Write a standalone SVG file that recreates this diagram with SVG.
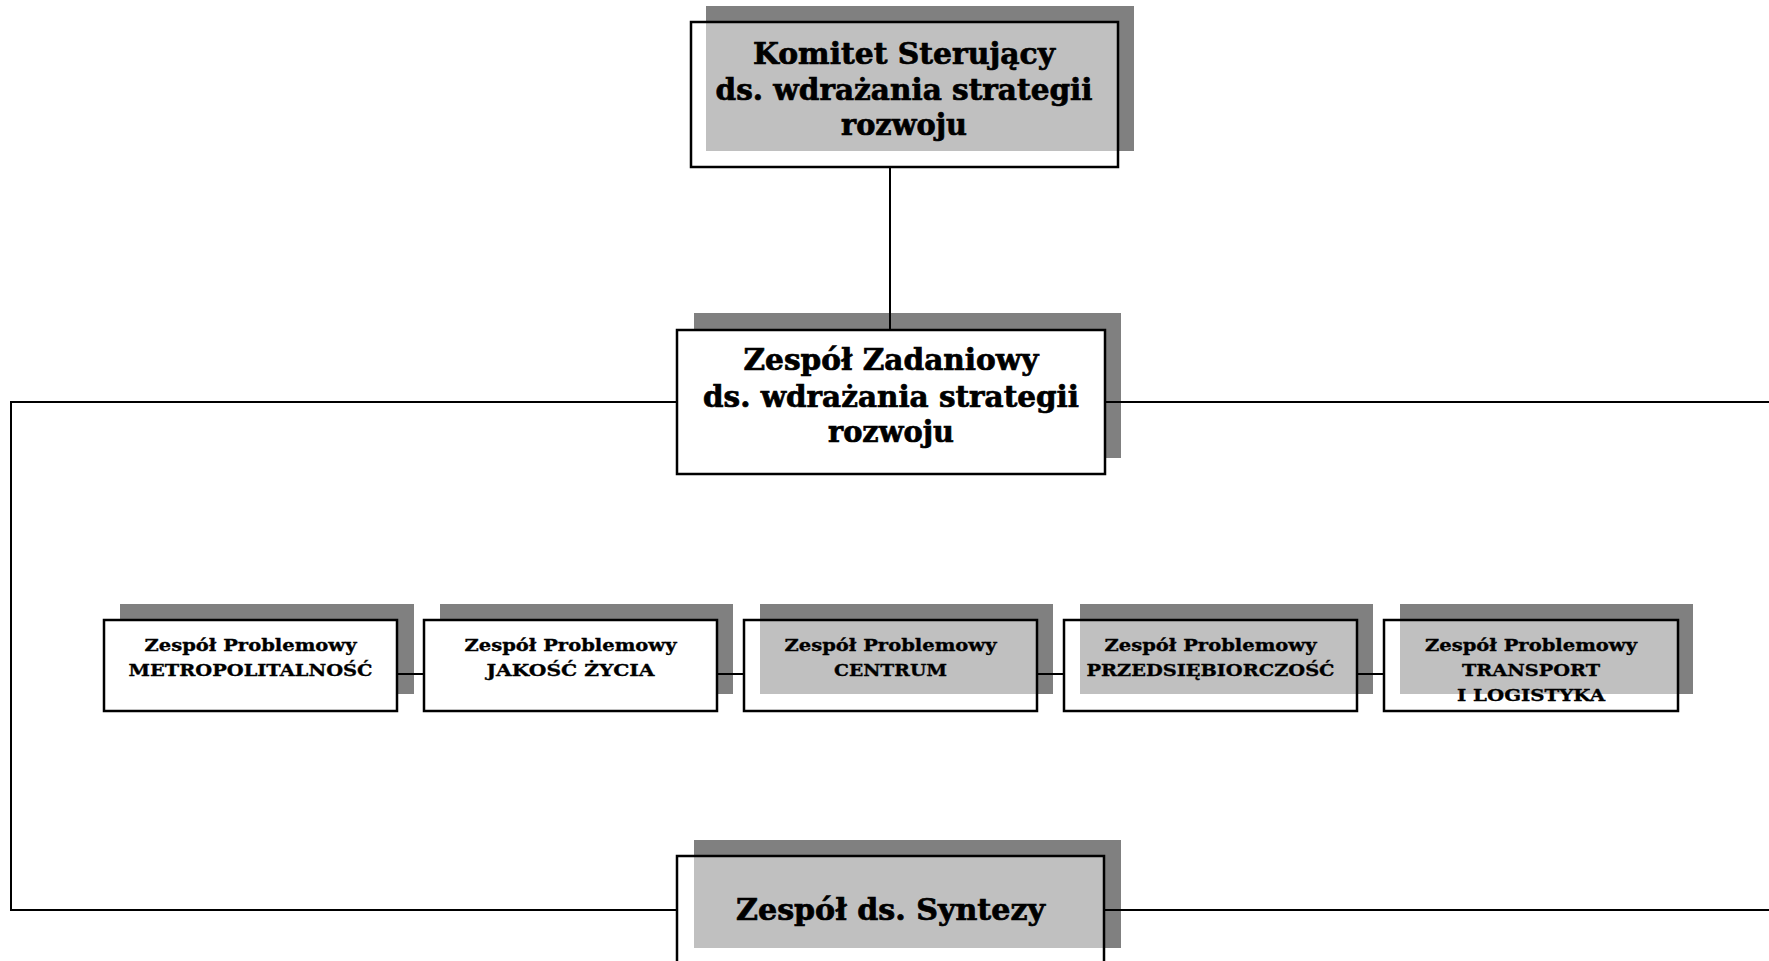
<svg xmlns="http://www.w3.org/2000/svg" width="1769" height="961" viewBox="0 0 1769 961">
<style>
  .shadow { fill: #808080; }
  .hl { fill: #c0c0c0; }
  .box { fill: #ffffff; }
  .frame { fill: none; stroke: #000000; stroke-width: 2.5; }
  .conn { fill: none; stroke: #000000; stroke-width: 2; }
  text { font-family: "DejaVu Serif", "Liberation Serif", serif; font-weight: bold; fill: #000000; text-anchor: middle; stroke: #000000; }
  .big { font-size: 29px; stroke-width: 0.7; }
  .small { font-size: 17px; stroke-width: 0.35; }
</style>
<rect x="0" y="0" width="1769" height="961" fill="#ffffff"/>

<g id="komitet">
  <rect class="shadow" x="706" y="6" width="428" height="145"/>
  <rect class="box" x="691" y="22" width="427" height="145"/>
  <rect class="hl" x="706" y="22" width="412" height="129"/>
  <text class="big" x="904" y="64" textLength="302" lengthAdjust="spacingAndGlyphs">Komitet Sterujący</text>
  <text class="big" x="904" y="100" textLength="377" lengthAdjust="spacingAndGlyphs">ds. wdrażania strategii</text>
  <text class="big" x="904" y="135" textLength="126" lengthAdjust="spacingAndGlyphs">rozwoju</text>
  <rect class="frame" x="691" y="22" width="427" height="145"/>
</g>

<g id="zadaniowy">
  <rect class="shadow" x="694" y="313" width="427" height="145"/>
  <rect class="box" x="677" y="330" width="428" height="144"/>
  <text class="big" x="891" y="370" textLength="295" lengthAdjust="spacingAndGlyphs">Zespół Zadaniowy</text>
  <text class="big" x="891" y="407" textLength="376" lengthAdjust="spacingAndGlyphs">ds. wdrażania strategii</text>
  <text class="big" x="891" y="442" textLength="126" lengthAdjust="spacingAndGlyphs">rozwoju</text>
  <rect class="frame" x="677" y="330" width="428" height="144"/>
</g>

<g id="metropolitalnosc">
  <rect class="shadow" x="120" y="604" width="294" height="90"/>
  <rect class="box" x="104" y="620" width="293" height="91"/>
  <text class="small" x="250.5" y="651" textLength="212" lengthAdjust="spacingAndGlyphs">Zespół Problemowy</text>
  <text class="small" x="250.5" y="676" textLength="244" lengthAdjust="spacingAndGlyphs">METROPOLITALNOŚĆ</text>
  <rect class="frame" x="104" y="620" width="293" height="91"/>
</g>

<g id="jakosc-zycia">
  <rect class="shadow" x="440" y="604" width="293" height="90"/>
  <rect class="box" x="424" y="620" width="293" height="91"/>
  <text class="small" x="570.5" y="651" textLength="212" lengthAdjust="spacingAndGlyphs">Zespół Problemowy</text>
  <text class="small" x="570.5" y="676" textLength="168" lengthAdjust="spacingAndGlyphs">JAKOŚĆ ŻYCIA</text>
  <rect class="frame" x="424" y="620" width="293" height="91"/>
</g>

<g id="centrum">
  <rect class="shadow" x="760" y="604" width="293" height="90"/>
  <rect class="box" x="744" y="620" width="293" height="91"/>
  <rect class="hl" x="760" y="620" width="277" height="74"/>
  <text class="small" x="890.5" y="651" textLength="212" lengthAdjust="spacingAndGlyphs">Zespół Problemowy</text>
  <text class="small" x="890.5" y="676" textLength="113" lengthAdjust="spacingAndGlyphs">CENTRUM</text>
  <rect class="frame" x="744" y="620" width="293" height="91"/>
</g>

<g id="przedsiebiorczosc">
  <rect class="shadow" x="1080" y="604" width="293" height="90"/>
  <rect class="box" x="1064" y="620" width="293" height="91"/>
  <rect class="hl" x="1080" y="620" width="277" height="74"/>
  <text class="small" x="1210.5" y="651" textLength="212" lengthAdjust="spacingAndGlyphs">Zespół Problemowy</text>
  <text class="small" x="1210.5" y="676" textLength="248" lengthAdjust="spacingAndGlyphs">PRZEDSIĘBIORCZOŚĆ</text>
  <rect class="frame" x="1064" y="620" width="293" height="91"/>
</g>

<g id="transport">
  <rect class="shadow" x="1400" y="604" width="293" height="90"/>
  <rect class="box" x="1384" y="620" width="294" height="91"/>
  <rect class="hl" x="1400" y="620" width="278" height="74"/>
  <text class="small" x="1531" y="651" textLength="212" lengthAdjust="spacingAndGlyphs">Zespół Problemowy</text>
  <text class="small" x="1531" y="676" textLength="138" lengthAdjust="spacingAndGlyphs">TRANSPORT</text>
  <text class="small" x="1531" y="701" textLength="148" lengthAdjust="spacingAndGlyphs">I LOGISTYKA</text>
  <rect class="frame" x="1384" y="620" width="294" height="91"/>
</g>

<g id="synteza">
  <rect class="shadow" x="694" y="840" width="427" height="108"/>
  <rect class="box" x="677" y="856" width="427" height="120"/>
  <rect class="hl" x="694" y="856" width="410" height="92"/>
  <text class="big" x="890.5" y="920" textLength="309" lengthAdjust="spacingAndGlyphs">Zespół ds. Syntezy</text>
  <rect class="frame" x="677" y="856" width="427" height="120"/>
</g>

<g id="connectors">
  <line class="conn" x1="890" y1="168" x2="890" y2="329"/>
  <polyline class="conn" points="676,402 11,402 11,910 676,910"/>
  <line class="conn" x1="1106" y1="402" x2="1775" y2="402"/>
  <line class="conn" x1="1105" y1="910" x2="1775" y2="910"/>
  <line class="conn" x1="398" y1="674" x2="423" y2="674"/>
  <line class="conn" x1="718" y1="674" x2="743" y2="674"/>
  <line class="conn" x1="1038" y1="674" x2="1063" y2="674"/>
  <line class="conn" x1="1358" y1="674" x2="1383" y2="674"/>
</g>
</svg>
